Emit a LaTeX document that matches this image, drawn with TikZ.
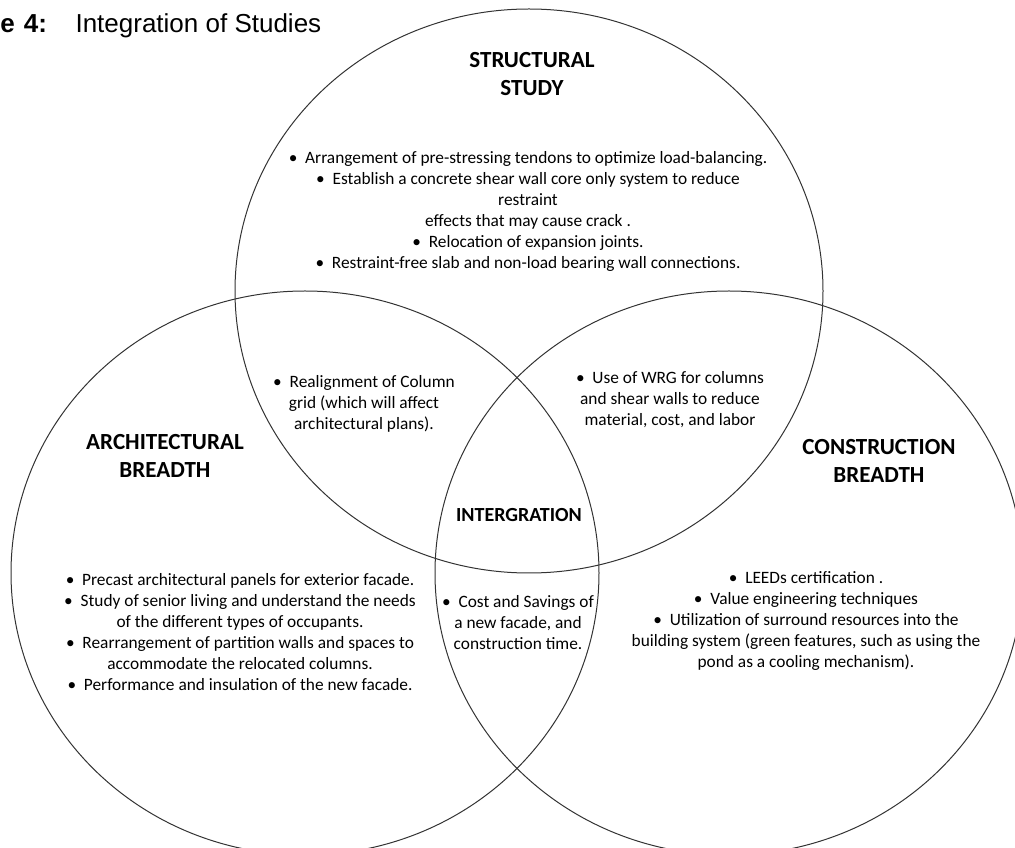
\documentclass[tikz,border=0pt]{standalone}
\usepackage{fontspec}
\setmainfont{Carlito}
\newfontfamily\arialfont{Liberation Sans}
\usetikzlibrary{shapes.geometric}
\newcommand{\bul}{\textbullet\hspace{0.45em}}

\begin{document}
\begin{tikzpicture}[x=0.75pt,y=-0.75pt]
    \tikzstyle{ring}=[ellipse,draw=black!80,line width=0.75pt,minimum width=441pt,minimum height=423pt,inner sep=0pt]
    \tikzstyle{head}=[align=center,inner sep=0pt,font=\bfseries\fontsize{17.3}{21}\selectfont]
    \tikzstyle{body}=[align=center,inner sep=0pt,font=\fontsize{13}{15.75}\selectfont]
    \useasboundingbox (0,0) rectangle (1015,848);

    % the three studies
    \foreach \name/\x/\y in {S/529/291, A/305/573, C/729/573}
            \node[ring] (\name) at (\x,\y) {};

    \node[anchor=base west,inner sep=0pt,font=\arialfont\fontsize{19.5}{23}\selectfont] (title) at (0,33)
        {\textbf{e\hspace{0.35em}4:}\hspace{1.1em}Integration of Studies};

    % headings
    \node[head] (struct) at (532,74) {STRUCTURAL\\STUDY};
    \node[head] (arch) at (165,456) {ARCHITECTURAL\\BREADTH};
    \node[head] (cons) at (879,461) {CONSTRUCTION\\BREADTH};
    \node[head,font=\bfseries\fontsize{15}{18}\selectfont] (integ) at (519,515) {INTERGRATION};

    % lists
    \node[body] (structlist) at (528,211) {\bul Arrangement of pre-stressing tendons to optimize load-balancing.\\
        \bul Establish a concrete shear wall core only system to reduce\\
        restraint\\
        effects that may cause crack .\\
        \bul Relocation of expansion joints.\\
        \bul Restraint-free slab and non-load bearing wall connections.};
    \node[body] (salist) at (364,404) {\bul Realignment of Column\\grid (which will affect\\architectural plans).};
    \node[body] (sclist) at (670,400) {\bul Use of WRG for columns\\and shear walls to reduce\\material, cost, and labor};
    \node[body] (archlist) at (240,632) {\bul Precast architectural panels for exterior facade.\\
        \bul Study of senior living and understand the needs\\
        of the different types of occupants.\\
        \bul Rearrangement of partition walls and spaces to\\
        accommodate the relocated columns.\\
        \bul Performance and insulation of the new facade.};
    \node[body] (integlist) at (518,623) {\bul Cost and Savings of\\a new facade, and\\construction time.};
    \node[body] (conslist) at (806,621) {\bul LEEDs certification .\\
        \bul Value engineering techniques\\
        \bul Utilization of surround resources into the\\
        building system (green features, such as using the\\
        pond as a cooling mechanism).};
\end{tikzpicture}
\end{document}
